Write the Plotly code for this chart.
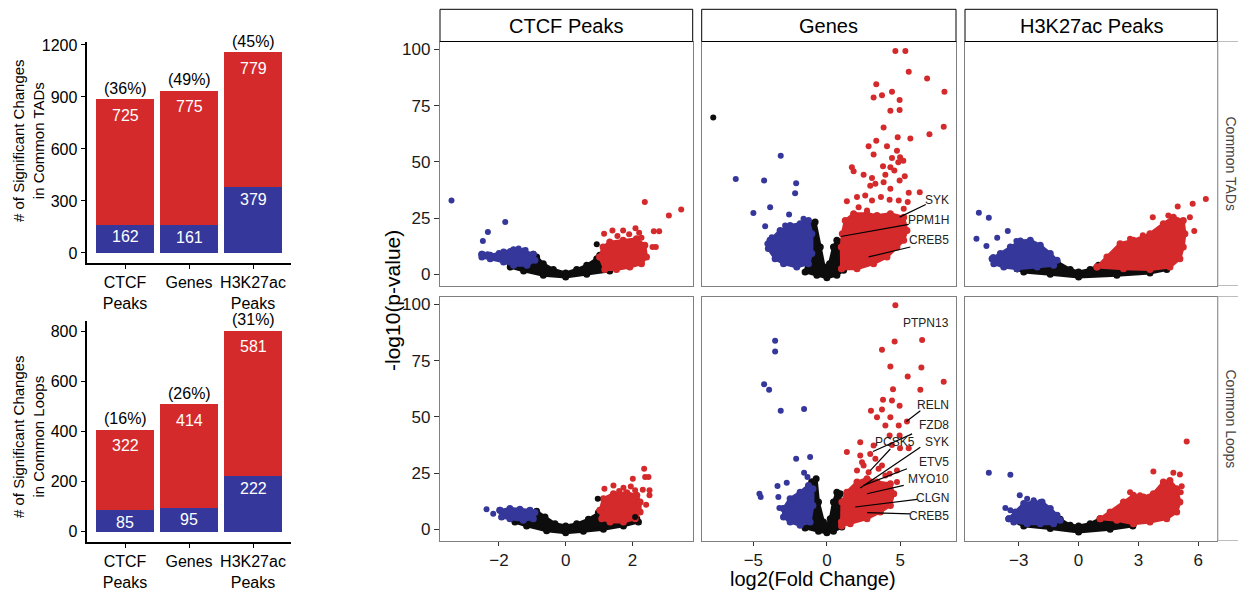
import plotly.graph_objects as go

W, H = 1238, 590
FONT = "Liberation Sans, Arial, sans-serif"
RED = "#D42A2B"
BLUE = "#35389A"
BLACK = "#0d0d0d"

# ---------------- bar chart data ----------------
bar_categories = ["CTCF<br>Peaks", "Genes", "H3K27ac<br>Peaks"]
tads_down = [162, 161, 379]
tads_up = [725, 775, 779]
tads_pct = ["(36%)", "(49%)", "(45%)"]
loops_down = [85, 95, 222]
loops_up = [322, 414, 581]
loops_pct = ["(16%)", "(26%)", "(31%)"]
tads_ticks = [0, 300, 600, 900, 1200]
loops_ticks = [0, 200, 400, 600, 800]
tads_title = "# of Significant Changes<br>in Common TADs"
loops_title = "# of Significant Changes<br>in Common Loops"

# ---------------- volcano data ----------------
facet_cols = ["CTCF Peaks", "Genes", "H3K27ac Peaks"]
facet_rows = ["Common TADs", "Common Loops"]
volcano_xticks = [[-2, 0, 2], [-5, 0, 5], [-3, 0, 3, 6]]
volcano_yticks = [0, 25, 50, 75, 100]

# CTCF / Common TADs
ctcf_tads_black_cloud = [(-1.66, 4.7), (-1.46, 6.2), (-1.16, 7.7), (-0.97, 8.9), (-0.87, 7.7), (-0.67, 4.7),
                         (-0.37, 2.1), (0, 0.6), (0.33, 2.1), (0.63, 4.0), (0.93, 6.9), (1.02, 8.4), (1.32, 1.5),
                         (0.63, 0), (0, -1.2), (-0.67, -0.4), (-1.26, 1.5), (-1.66, 3.2)]
ctcf_tads_blue_cloud = [(-2.51, 8.9), (-2.26, 8.4), (-1.86, 9.9), (-1.56, 10.9), (-1.26, 10.3), (-0.97, 8.9),
                        (-0.92, 6.2), (-1.16, 4.0), (-1.56, 4.0), (-1.86, 5.5), (-2.26, 6.9), (-2.51, 7.7)]
ctcf_tads_red_cloud = [(1.02, 7.7), (1.12, 12.1), (1.32, 14.3), (1.72, 15.1), (2.12, 15.8), (2.37, 12.9),
                       (2.42, 7.7), (2.27, 4.7), (1.92, 3.2), (1.52, 2.1), (1.17, 2.1)]
ctcf_tads_blue_pts = [(-3.42, 32.8), (-1.81, 23.2), (-2.33, 18.8), (-2.48, 14.8), (-2.48, 8.9), (-2.34, 8.9),
                      (-1.41, 11.4), (-1.66, 10.3), (-2.0, 9.5), (-1.2, 10.8)]
ctcf_tads_red_pts = [(2.37, 32.1), (3.46, 28.8), (3.09, 26.1), (2.64, 19.1), (2.80, 19.1), (2.7, 12.1),
                     (2.6, 12.1), (1.15, 18.0), (1.40, 19.5), (1.72, 19.5), (2.09, 20.5), (2.27, 16.2),
                     (2.34, 12.9), (1.55, 17.0), (1.9, 17.8), (2.2, 18.5)]
ctcf_tads_black_pts = [(0.93, 13.3)]

# CTCF / Common Loops
ctcf_loops_black_cloud = [(-1.52, 4.0), (-1.17, 5.8), (-0.87, 8.0), (-0.62, 5.5), (-0.32, 2.5), (0, 1.5),
                          (0.33, 2.4), (0.68, 4.4), (0.98, 7.4), (1.08, 8.0), (1.33, 3.2), (1.73, 2.5),
                          (2.13, 4.7), (2.18, 3.2), (1.73, 1.5), (1.13, 0), (0.53, -0.9), (0, -1.5),
                          (-0.57, -0.7), (-1.17, 1.5), (-1.52, 3.2)]
ctcf_loops_blue_cloud = [(-1.97, 8.4), (-1.67, 9.2), (-1.37, 8.9), (-1.07, 8.4), (-0.92, 7.4), (-0.97, 4.7),
                         (-1.27, 4.0), (-1.67, 4.7), (-1.92, 5.5)]
ctcf_loops_red_cloud = [(1.03, 8.4), (1.13, 13.6), (1.43, 15.8), (1.83, 16.2), (2.13, 15.1), (2.23, 12.1),
                        (2.23, 7.7), (2.08, 4.7), (1.73, 3.2), (1.33, 3.2), (1.08, 4.7)]
ctcf_loops_blue_pts = [(-2.37, 8.9), (-2.17, 6.9)]
ctcf_loops_red_pts = [(2.35, 26.9), (2.38, 23.2), (2.48, 23.2), (2.01, 22.5), (2.31, 17.6), (2.51, 17.3),
                      (2.51, 15.1), (2.41, 10.9), (1.43, 19.5), (1.16, 18.0), (1.73, 18.5), (2.08, 17.4),
                      (1.6, 17.0), (1.95, 19.0)]
ctcf_loops_black_pts = [(0.96, 13.6), (2.08, 5.5)]

# Genes / Common TADs
genes_tads_black_cloud = [(-1.14, 22.7), (-0.80, 23.2), (-0.45, 12.1), (-0.18, 3.2), (0, 1.8), (0.18, 4.7),
                          (0.45, 12.1), (0.68, 15.1), (0.95, 14.3), (0.91, 9.2), (1.14, 1.8), (0.68, -0.4),
                          (0, -1.5), (-0.68, -0.4), (-1.48, 1.0), (-1.25, 7.7), (-1.14, 18.0)]
genes_tads_blue_cloud = [(-3.86, 15.1), (-3.18, 19.5), (-2.5, 21.7), (-1.82, 22.5), (-1.25, 23.9), (-1.02, 18.0),
                         (-1.02, 9.2), (-1.25, 4.7), (-2.05, 3.2), (-2.95, 4.7), (-3.52, 6.9), (-3.98, 11.4)]
genes_tads_red_cloud = [(1.0, 2.5), (0.98, 12.1), (1.05, 18.0), (1.25, 23.9), (1.82, 26.9), (2.73, 26.9),
                        (3.41, 26.1), (4.32, 26.9), (5.23, 25.4), (5.45, 19.5), (5.23, 15.1), (4.77, 12.1),
                        (4.09, 7.7), (3.18, 4.7), (2.05, 2.5)]
genes_tads_blue_pts = [(-3.14, 52.7), (-6.2, 42.4), (-4.27, 41.7), (-2.09, 40.5), (-2.16, 36.0), (-3.86, 29.8),
                       (-5.0, 27.2), (-2.57, 26.6), (-1.59, 24.7), (-4.2, 21.3), (-2.84, 21.7), (-3.75, 16.5),
                       (-4.05, 13.6), (-3.36, 7.7)]
genes_tads_red_pts = [(4.66, 99.3), (5.34, 99.3), (5.57, 90.1), (6.82, 87.1), (8.0, 81.2), (3.36, 84.5),
                      (3.18, 78.6), (3.75, 79.6), (4.43, 81.2), (4.95, 77.5), (4.32, 72.7), (4.95, 73.0),
                      (3.86, 65.3), (7.95, 65.6), (6.98, 62.3), (4.82, 60.9), (5.68, 60.4), (3.36, 59.4),
                      (2.84, 56.9), (4.09, 56.9), (4.77, 54.9), (3.18, 53.2), (4.43, 51.7), (4.98, 52.0),
                      (4.86, 49.8), (5.2, 50.5), (1.70, 47.6), (3.82, 48.0), (4.32, 47.6), (1.82, 45.8),
                      (4.59, 46.1), (2.5, 44.3), (3.07, 42.8), (3.98, 44.3), (5.3, 43.6), (4.95, 41.7),
                      (3.86, 40.9), (3.30, 40.2), (2.95, 39.4), (4.32, 38.0), (5.57, 36.2), (6.32, 36.5),
                      (1.36, 32.5), (2.05, 34.3), (2.61, 35.0), (3.07, 32.8), (3.68, 34.3), (4.27, 33.1),
                      (4.89, 32.8), (5.5, 32.1), (5.23, 29.1), (2.16, 29.8), (2.73, 28.4)]
genes_tads_black_pts = [(-7.73, 69.7)]
genes_tads_labels = ["SYK", "PPM1H", "CREB5"]
genes_tads_label_pos = [(8.45, 33.1), (8.45, 24.2), (8.45, 15.1)]
genes_tads_seg_from = [(6.73, 31.0), (5.57, 22.2), (5.68, 12.1)]
genes_tads_seg_to = [(4.95, 25.4), (0.95, 16.8), (2.84, 7.7)]

# Genes / Common Loops
genes_loops_black_cloud = [(-1.02, 21.0), (-0.73, 22.5), (-0.57, 12.1), (-0.23, 3.2), (0, 1.5), (0.23, 4.7),
                           (0.45, 12.1), (0.68, 16.5), (0.91, 15.8), (0.91, 4.7), (1.02, 1.0), (0.45, -0.9),
                           (0, -1.5), (-0.57, -0.9), (-1.48, 0.6), (-1.09, 4.7), (-1.09, 15.1)]
genes_loops_blue_cloud = [(-2.95, 9.2), (-2.5, 13.6), (-1.82, 16.5), (-1.25, 19.5), (-0.95, 18.0), (-0.95, 10.6),
                          (-1.14, 3.2), (-1.82, 1.8), (-2.5, 3.2), (-2.95, 5.5)]
genes_loops_red_cloud = [(1.0, 3.2), (1.02, 12.1), (1.36, 16.5), (2.05, 21.0), (2.73, 22.5), (3.41, 21.0),
                         (4.32, 20.2), (4.55, 15.8), (4.32, 10.6), (3.64, 7.7), (2.73, 4.7), (1.59, 2.5),
                         (1.0, 1.5)]
genes_loops_blue_pts = [(-3.52, 83.8), (-3.52, 79.0), (-4.27, 64.5), (-3.93, 62.0), (-3.14, 52.7), (-1.55, 53.5),
                        (-2.09, 31.3), (-1.14, 32.1), (-1.55, 25.1), (-1.32, 23.2), (-2.73, 20.7), (-3.36, 19.2),
                        (-4.59, 15.8), (-4.5, 14.3), (-3.3, 14.3), (-3.23, 9.5), (-2.5, 12.1)]
genes_loops_red_pts = [(4.66, 99.6), (6.48, 84.2), (4.61, 83.5), (3.75, 79.8), (4.32, 72.4), (6.43, 71.9),
                       (5.5, 67.9), (7.95, 65.6), (4.5, 62.3), (3.82, 57.6), (4.43, 57.2), (4.95, 54.9),
                       (6.36, 62.0), (3.0, 52.7), (3.75, 53.2), (3.41, 49.8), (4.32, 49.8), (3.98, 46.1),
                       (4.89, 46.1), (5.45, 47.9), (4.27, 41.7), (4.95, 41.7), (2.27, 38.7), (3.18, 37.2),
                       (4.43, 37.5), (4.98, 36.0), (5.57, 36.0), (1.36, 34.3), (2.27, 32.8), (2.95, 33.5),
                       (3.75, 28.4), (2.5, 28.4), (4.27, 24.7), (3.52, 26.9), (4.32, 16.5), (2.39, 29.8),
                       (2.84, 25.4), (3.3, 31.3), (2.05, 26.1), (3.98, 23.9), (4.77, 26.1), (4.77, 21.0)]
genes_loops_black_pts = []
genes_loops_labels = ["PTPN13", "RELN", "FZD8", "PCSK5", "SYK", "ETV5", "MYO10", "CLGN", "CREB5"]
genes_loops_label_pos = [(8.45, 91.6), (8.45, 55.4), (8.45, 46.4), (6.14, 38.7), (8.45, 38.7), (8.45, 30.1),
                         (8.45, 22.2), (8.45, 13.9), (8.45, 5.9)]
genes_loops_seg_from = [None, (6.36, 52.7), (5.8, 42.4), (4.32, 35.7), (6.36, 36.5), (5.45, 26.9),
                        (5.23, 19.5), (6.14, 13.3), (5.68, 6.8)]
genes_loops_seg_to = [None, (5.41, 47.9), (3.14, 34.6), (2.95, 26.1), (2.27, 18.3), (2.5, 19.5),
                      (2.73, 15.8), (1.93, 9.9), (2.73, 7.4)]

# H3K27ac / Common TADs
h3_tads_black_cloud = [(-3.08, 2.5), (-2.08, 3.2), (-1.08, 5.5), (-0.42, 2.1), (0, 1.0), (0.58, 2.1), (1.0, 4.0),
                       (2.25, 3.2), (3.58, 2.1), (4.42, 2.1), (3.58, 0.6), (1.92, -0.4), (0, -1.2), (-1.42, 0),
                       (-2.75, 1.0)]
h3_tads_blue_cloud = [(-4.33, 6.9), (-3.92, 9.2), (-3.42, 12.1), (-2.92, 14.8), (-2.42, 15.1), (-1.92, 12.9),
                      (-1.42, 9.2), (-1.08, 6.2), (-1.25, 4.0), (-2.08, 3.2), (-3.08, 2.5), (-3.75, 3.2),
                      (-4.25, 4.7)]
h3_tads_red_cloud = [(0.92, 3.2), (1.42, 7.7), (2.08, 13.6), (2.75, 15.1), (3.58, 18.0), (4.25, 22.5),
                     (4.75, 25.4), (5.25, 23.9), (5.33, 18.0), (5.25, 12.1), (5.08, 6.9), (4.58, 3.2),
                     (3.58, 2.1), (2.25, 2.5)]
h3_tads_blue_pts = [(-5.0, 27.3), (-4.5, 25.1), (-5.12, 15.8), (-4.62, 12.6), (-4.08, 16.2), (-3.55, 19.2),
                    (-3.12, 14.8), (-4.28, 7.7), (-4.08, 7.4), (-2.75, 13.9)]
h3_tads_red_pts = [(6.38, 33.5), (5.72, 31.3), (4.97, 30.1), (5.58, 25.4), (5.8, 19.2), (3.72, 25.4),
                   (4.5, 26.1), (3.22, 17.3), (2.58, 15.8)]
h3_tads_black_pts = []

# H3K27ac / Common Loops
h3_loops_black_cloud = [(-2.92, 3.2), (-1.75, 3.0), (-0.92, 4.4), (-0.42, 1.8), (0, 1.5), (0.58, 2.5),
                        (1.08, 4.7), (1.92, 4.0), (2.75, 2.5), (2.72, 1.5), (1.58, 0), (0, -1.2),
                        (-1.42, 0.3), (-2.75, 1.5)]
h3_loops_blue_cloud = [(-3.5, 4.7), (-3.17, 7.7), (-2.75, 11.4), (-2.25, 12.1), (-1.83, 12.1), (-1.42, 9.2),
                       (-1.08, 6.2), (-0.92, 4.0), (-1.25, 2.5), (-1.92, 2.5), (-2.58, 2.5), (-3.25, 3.2)]
h3_loops_red_cloud = [(1.08, 4.7), (1.58, 7.7), (2.25, 12.1), (2.75, 15.1), (3.25, 14.3), (3.75, 15.8),
                      (4.25, 21.0), (4.58, 21.7), (4.92, 18.0), (5.08, 12.1), (4.92, 7.7), (4.42, 4.7),
                      (3.58, 3.2), (2.75, 2.5), (1.92, 4.0)]
h3_loops_blue_pts = [(-4.5, 25.1), (-3.42, 24.2), (-2.95, 15.1), (-3.67, 9.5), (-3.42, 8.4), (-2.58, 13.6),
                     (-2.25, 12.9), (-1.92, 12.1)]
h3_loops_red_pts = [(5.42, 39.0), (3.75, 25.7), (4.75, 25.1), (5.08, 24.4), (5.17, 19.1), (5.12, 16.5),
                    (2.58, 16.5), (3.08, 15.1)]
h3_loops_black_pts = []

panels = [
    [  # row: Common TADs
        dict(black=ctcf_tads_black_cloud, blue=ctcf_tads_blue_cloud, red=ctcf_tads_red_cloud,
             bpts=ctcf_tads_blue_pts, rpts=ctcf_tads_red_pts, kpts=ctcf_tads_black_pts),
        dict(black=genes_tads_black_cloud, blue=genes_tads_blue_cloud, red=genes_tads_red_cloud,
             bpts=genes_tads_blue_pts, rpts=genes_tads_red_pts, kpts=genes_tads_black_pts,
             labels=genes_tads_labels, lpos=genes_tads_label_pos, sfrom=genes_tads_seg_from, sto=genes_tads_seg_to),
        dict(black=h3_tads_black_cloud, blue=h3_tads_blue_cloud, red=h3_tads_red_cloud,
             bpts=h3_tads_blue_pts, rpts=h3_tads_red_pts, kpts=h3_tads_black_pts),
    ],
    [  # row: Common Loops
        dict(black=ctcf_loops_black_cloud, blue=ctcf_loops_blue_cloud, red=ctcf_loops_red_cloud,
             bpts=ctcf_loops_blue_pts, rpts=ctcf_loops_red_pts, kpts=ctcf_loops_black_pts),
        dict(black=genes_loops_black_cloud, blue=genes_loops_blue_cloud, red=genes_loops_red_cloud,
             bpts=genes_loops_blue_pts, rpts=genes_loops_red_pts, kpts=genes_loops_black_pts,
             labels=genes_loops_labels, lpos=genes_loops_label_pos, sfrom=genes_loops_seg_from, sto=genes_loops_seg_to),
        dict(black=h3_loops_black_cloud, blue=h3_loops_blue_cloud, red=h3_loops_red_cloud,
             bpts=h3_loops_blue_pts, rpts=h3_loops_red_pts, kpts=h3_loops_black_pts),
    ],
]

# ---------------- helpers ----------------
def px_x(p):
    return p / W


def px_y(p):
    return 1 - p / H


def note(**kw):
    d = dict(showarrow=False, xanchor="center", yanchor="middle")
    d.update(kw)
    return d


fig = go.Figure()
layout = dict(
    width=W, height=H, margin=dict(l=0, r=0, t=0, b=0, pad=0, autoexpand=False),
    paper_bgcolor="white", plot_bgcolor="white", showlegend=False,
    barmode="stack", font=dict(family=FONT, color="#000"),
)
annotations = []
shapes = []

# ---------------- bar charts ----------------
bar_specs = [
    ("x", "y", "xaxis", "yaxis", tads_down, tads_up, tads_pct, tads_ticks, tads_title, (42.2, 263.0), 141),
    ("x2", "y2", "xaxis2", "yaxis2", loops_down, loops_up, loops_pct, loops_ticks, loops_title, (320.9, 541.7), 437),
]
cat_idx = list(range(len(bar_categories)))
for xa, ya, xk, yk, down, up, pct, ticks, title, (ytop, ybot), title_y in bar_specs:
    fig.add_trace(go.Bar(x=cat_idx, y=down, marker=dict(color=BLUE, line=dict(width=0)), width=0.9,
                         xaxis=xa, yaxis=ya, hoverinfo="skip"))
    fig.add_trace(go.Bar(x=cat_idx, y=up, marker=dict(color=RED, line=dict(width=0)), width=0.9,
                         xaxis=xa, yaxis=ya, hoverinfo="skip"))
    totals = [d + u for d, u in zip(down, up)]
    top = max(totals)
    pad = 0.05 * top
    layout[xk] = dict(domain=[px_x(86.6), px_x(291.4)], range=[-0.6, 2.6], anchor=ya,
                      tickvals=cat_idx, ticktext=bar_categories, showline=True, linecolor="#000",
                      linewidth=2, ticks="outside", ticklen=4, tickcolor="#000", tickwidth=1,
                      tickfont=dict(size=16, color="#000"), showgrid=False, zeroline=False)
    layout[yk] = dict(domain=[px_y(ybot), px_y(ytop)], range=[-pad, top + pad], anchor=xa,
                      tickvals=ticks, showline=True, linecolor="#000", linewidth=2, ticks="outside",
                      ticklen=4, tickcolor="#000", tickfont=dict(size=16, color="#000"),
                      showgrid=False, zeroline=False)
    for i in cat_idx:
        annotations.append(note(x=i, y=down[i], xref=xa, yref=ya, text=str(down[i]),
                                yshift=-12, font=dict(size=16, color="white")))
        annotations.append(note(x=i, y=totals[i], xref=xa, yref=ya, text=str(up[i]),
                                yshift=-16, font=dict(size=16, color="white")))
        annotations.append(note(x=i, y=totals[i], xref=xa, yref=ya, text=pct[i],
                                yshift=11, font=dict(size=16, color="#000")))
    annotations.append(note(x=px_x(28), y=px_y(title_y), xref="paper", yref="paper", text=title,
                            textangle=-90, font=dict(size=15, color="#000")))

# ---------------- volcano facets ----------------
col_px = [(440, 692.7), (701.7, 956), (965, 1217.3)]
row_px = [(41.5, 285.5), (296.5, 540.5)]
y_range = [-5, 103.5]

# free x scale per column: data extent + 5%
x_ranges = []
for c in range(3):
    xs = []
    for r in range(2):
        p = panels[r][c]
        xs += [pt[0] for pt in p["bpts"] + p["rpts"] + p["kpts"]]
    lo, hi = min(xs), max(xs)
    e = 0.05 * (hi - lo)
    x_ranges.append([lo - e, hi + e])


def add_cloud(pts, color, xa, ya):
    """Dense cloud: filled outline, with a dot at each outline vertex for a speckled edge."""
    if not pts:
        return
    xs = [p[0] for p in pts] + [pts[0][0]]
    ys = [p[1] for p in pts] + [pts[0][1]]
    fig.add_trace(go.Scatter(x=xs, y=ys, mode="lines+markers", fill="toself", fillcolor=color,
                             line=dict(color=color, width=3),
                             marker=dict(color=color, size=7, line=dict(width=0)),
                             xaxis=xa, yaxis=ya, hoverinfo="skip"))


def add_pts(pts, color, xa, ya):
    if not pts:
        return
    fig.add_trace(go.Scatter(x=[p[0] for p in pts], y=[p[1] for p in pts], mode="markers",
                             marker=dict(color=color, size=6, line=dict(width=0)),
                             xaxis=xa, yaxis=ya, hoverinfo="skip"))


for r in range(2):
    for c in range(3):
        k = 3 + r * 3 + c
        xa, ya = f"x{k}", f"y{k}"
        p = panels[r][c]
        add_cloud(p["black"], BLACK, xa, ya)
        add_cloud(p["blue"], BLUE, xa, ya)
        add_cloud(p["red"], RED, xa, ya)
        add_pts(p["kpts"], BLACK, xa, ya)
        add_pts(p["bpts"], BLUE, xa, ya)
        add_pts(p["rpts"], RED, xa, ya)
        if "labels" in p:
            for lab, pos, s0, s1 in zip(p["labels"], p["lpos"], p["sfrom"], p["sto"]):
                if s0 is not None:
                    fig.add_trace(go.Scatter(x=[s0[0], s1[0]], y=[s0[1], s1[1]], mode="lines",
                                             line=dict(color="#000", width=1.2), xaxis=xa, yaxis=ya,
                                             hoverinfo="skip"))
                annotations.append(note(x=pos[0], y=pos[1], xref=xa, yref=ya, text=lab,
                                        xanchor="right", font=dict(size=12, color="#222")))
        x0, x1 = col_px[c]
        y0, y1 = row_px[r]
        bottom = r == 1
        left = c == 0
        layout[f"xaxis{k}"] = dict(domain=[px_x(x0), px_x(x1)], range=x_ranges[c], anchor=ya,
                                   tickvals=volcano_xticks[c], showticklabels=bottom,
                                   ticks="outside" if bottom else "", ticklen=4, tickcolor="#333",
                                   tickfont=dict(size=17, color="#1a1a1a"), showline=True, mirror=True,
                                   linecolor="#7f7f7f", linewidth=1.3, showgrid=False, zeroline=False)
        layout[f"yaxis{k}"] = dict(domain=[px_y(y1), px_y(y0)], range=y_range, anchor=xa,
                                   tickvals=volcano_yticks, showticklabels=left,
                                   ticks="outside" if left else "", ticklen=5, tickcolor="#333",
                                   tickfont=dict(size=17, color="#1a1a1a"), showline=True, mirror=True,
                                   linecolor="#7f7f7f", linewidth=1.3, showgrid=False, zeroline=False)

# top strips
for c, name in enumerate(facet_cols):
    x0, x1 = col_px[c]
    shapes.append(dict(type="rect", xref="paper", yref="paper", x0=px_x(x0), x1=px_x(x1),
                       y0=px_y(41.5), y1=px_y(9.3), line=dict(color="#000", width=1), fillcolor="white"))
    annotations.append(note(x=px_x((x0 + x1) / 2), y=px_y(25.5), xref="paper", yref="paper", text=name,
                            font=dict(size=20, color="#000")))
# right strips
for r, name in enumerate(facet_rows):
    y0, y1 = row_px[r]
    shapes.append(dict(type="rect", xref="paper", yref="paper", x0=px_x(1218), x1=px_x(1250),
                       y0=px_y(y1), y1=px_y(y0), line=dict(color="#bdbdbd", width=1), fillcolor="white"))
    annotations.append(note(x=px_x(1231), y=px_y((y0 + y1) / 2), xref="paper", yref="paper", text=name,
                            textangle=90, font=dict(size=14, color="#444")))

annotations.append(note(x=px_x(393), y=px_y(301), xref="paper", yref="paper", text="-log10(p-value)",
                        textangle=-90, font=dict(size=21, color="#000")))
annotations.append(note(x=px_x(813), y=px_y(579), xref="paper", yref="paper", text="log2(Fold Change)",
                        font=dict(size=20, color="#000")))

layout["annotations"] = annotations
layout["shapes"] = shapes
fig.update_layout(**layout)
fig.write_html("out.html")
